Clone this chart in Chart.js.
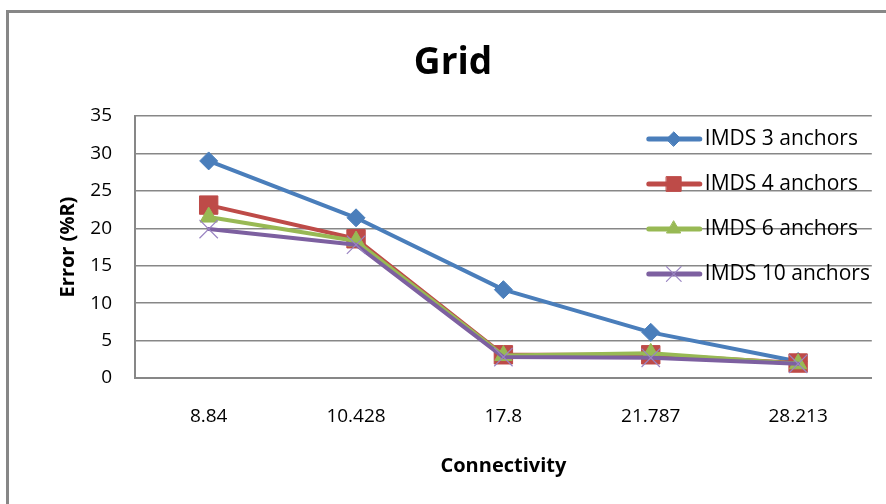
<!DOCTYPE html>
<html>
<head>
<meta charset="utf-8">
<script src="https://cdn.jsdelivr.net/npm/chart.js@4.4.1/dist/chart.umd.min.js"></script>
<style>
  html, body { margin: 0; padding: 0; background: #fff; }
  #wrap { position: relative; width: 886px; height: 504px; overflow: hidden; }
  #frame { position: absolute; left: 6px; top: 10px; width: 900px; height: 520px;
           border: 3px solid #878787; box-sizing: border-box; pointer-events: none; }
  canvas { position: absolute; left: 0; top: 0; }
</style>
</head>
<body>
<div id="wrap">
  <canvas id="grid-chart" width="886" height="504"></canvas>
  <div id="frame"></div>
</div>
<script>
var connectivity = ["8.84", "10.428", "17.8", "21.787", "28.213"];
var imds3 = [29.0, 21.4, 11.8, 6.1, 2.2];
var imds4 = [23.1, 18.6, 3.1, 3.1, 2.0];
var imds6 = [21.5, 18.3, 3.0, 3.3, 1.9];
var imds10 = [19.9, 17.8, 2.8, 2.7, 1.9];
var seriesNames = ["IMDS 3 anchors", "IMDS 4 anchors", "IMDS 6 anchors", "IMDS 10 anchors"];

var font = "'Open Sans', 'Noto Sans', sans-serif";

function makeSet(label, values, color, style, radius, order, markerColor, markerWidth) {
  return {
    label: label,
    data: values,
    fill: false,
    borderColor: color,
    backgroundColor: color,
    borderWidth: 4,
    borderCapStyle: "round",
    borderJoinStyle: "round",
    tension: 0,
    pointStyle: style,
    pointRadius: radius,
    pointHoverRadius: radius,
    pointBackgroundColor: color,
    pointBorderColor: markerColor || color,
    pointBorderWidth: markerWidth || 1,
    order: order
  };
}

// legend drawn inside the plot area, like the original
var insideLegend = {
  id: "insideLegend",
  afterDraw: function (chart) {
    var ctx = chart.ctx;
    var area = chart.chartArea;
    var x0 = area.right - 223;
    ctx.save();
    chart.data.datasets.forEach(function (ds, i) {
      var y = area.top + 23 + i * 45;
      ctx.strokeStyle = ds.borderColor;
      ctx.lineWidth = 5;
      ctx.lineCap = "round";
      ctx.beginPath();
      ctx.moveTo(x0, y);
      ctx.lineTo(x0 + 51, y);
      ctx.stroke();
      ctx.fillStyle = ds.pointBackgroundColor;
      ctx.strokeStyle = ds.pointBorderColor;
      ctx.lineWidth = ds.pointBorderWidth;
      Chart.helpers.drawPoint(ctx, {
        pointStyle: ds.pointStyle,
        radius: ds.pointRadius * 0.8,
        rotation: 0,
        borderWidth: ds.pointBorderWidth
      }, x0 + 25, y);
      ctx.fillStyle = "#000";
      ctx.font = "21px " + font;
      ctx.textAlign = "left";
      ctx.textBaseline = "middle";
      ctx.fillText(ds.label, x0 + 56, y);
    });
    ctx.restore();
  }
};

new Chart("grid-chart", {
  type: "line",
  data: {
    labels: connectivity,
    datasets: [
      makeSet(seriesNames[0], imds3, "#4a7ebb", "rectRot", 9, 4),
      makeSet(seriesNames[1], imds4, "#be4b48", "rect", 13, 3),
      makeSet(seriesNames[2], imds6, "#98b954", "triangle", 10, 2),
      makeSet(seriesNames[3], imds10, "#7d60a0", "crossRot", 13, 1, "#9a84c2", 1.2)
    ]
  },
  options: {
    responsive: false,
    animation: false,
    layout: { padding: { left: 20, right: 0, top: 0, bottom: 0 } },
    plugins: {
      legend: { display: false },
      tooltip: { enabled: false },
      title: {
        display: true,
        text: "Grid",
        color: "#000",
        font: { family: font, size: 37, weight: "bold" },
        padding: { top: 41, bottom: 30.6 }
      }
    },
    scales: {
      x: {
        offset: true,
        grid: { display: false, drawTicks: false, offset: true },
        border: { display: true, color: "#878787", width: 2 },
        ticks: { color: "#000", padding: 27, font: { family: font, size: 19 } },
        title: {
          display: true,
          text: "Connectivity",
          color: "#000",
          font: { family: font, size: 20, weight: "bold" },
          padding: { top: 0, bottom: 26 }
        },
        afterFit: function (scale) { scale.height = 126; }
      },
      y: {
        min: 0,
        max: 35,
        ticks: { stepSize: 5, color: "#000", padding: 23, font: { family: font, size: 19 } },
        grid: { color: "#878787", lineWidth: 1.5, drawTicks: false, tickLength: 0 },
        border: { display: true, color: "#878787", width: 2 },
        title: {
          display: true,
          text: "Error (%R)",
          color: "#000",
          font: { family: font, size: 20, weight: "bold" },
          padding: { top: 36, bottom: 0 }
        },
        afterFit: function (scale) { scale.width = 115; }
      },
      // empty strip on the right so the plot stops short of the frame
      spacer: {
        type: "linear",
        position: "right",
        display: true,
        grid: { display: false, drawTicks: false },
        border: { display: false },
        ticks: { display: false },
        afterFit: function (scale) { scale.width = 14; }
      }
    }
  },
  plugins: [insideLegend]
});
</script>
</body>
</html>
